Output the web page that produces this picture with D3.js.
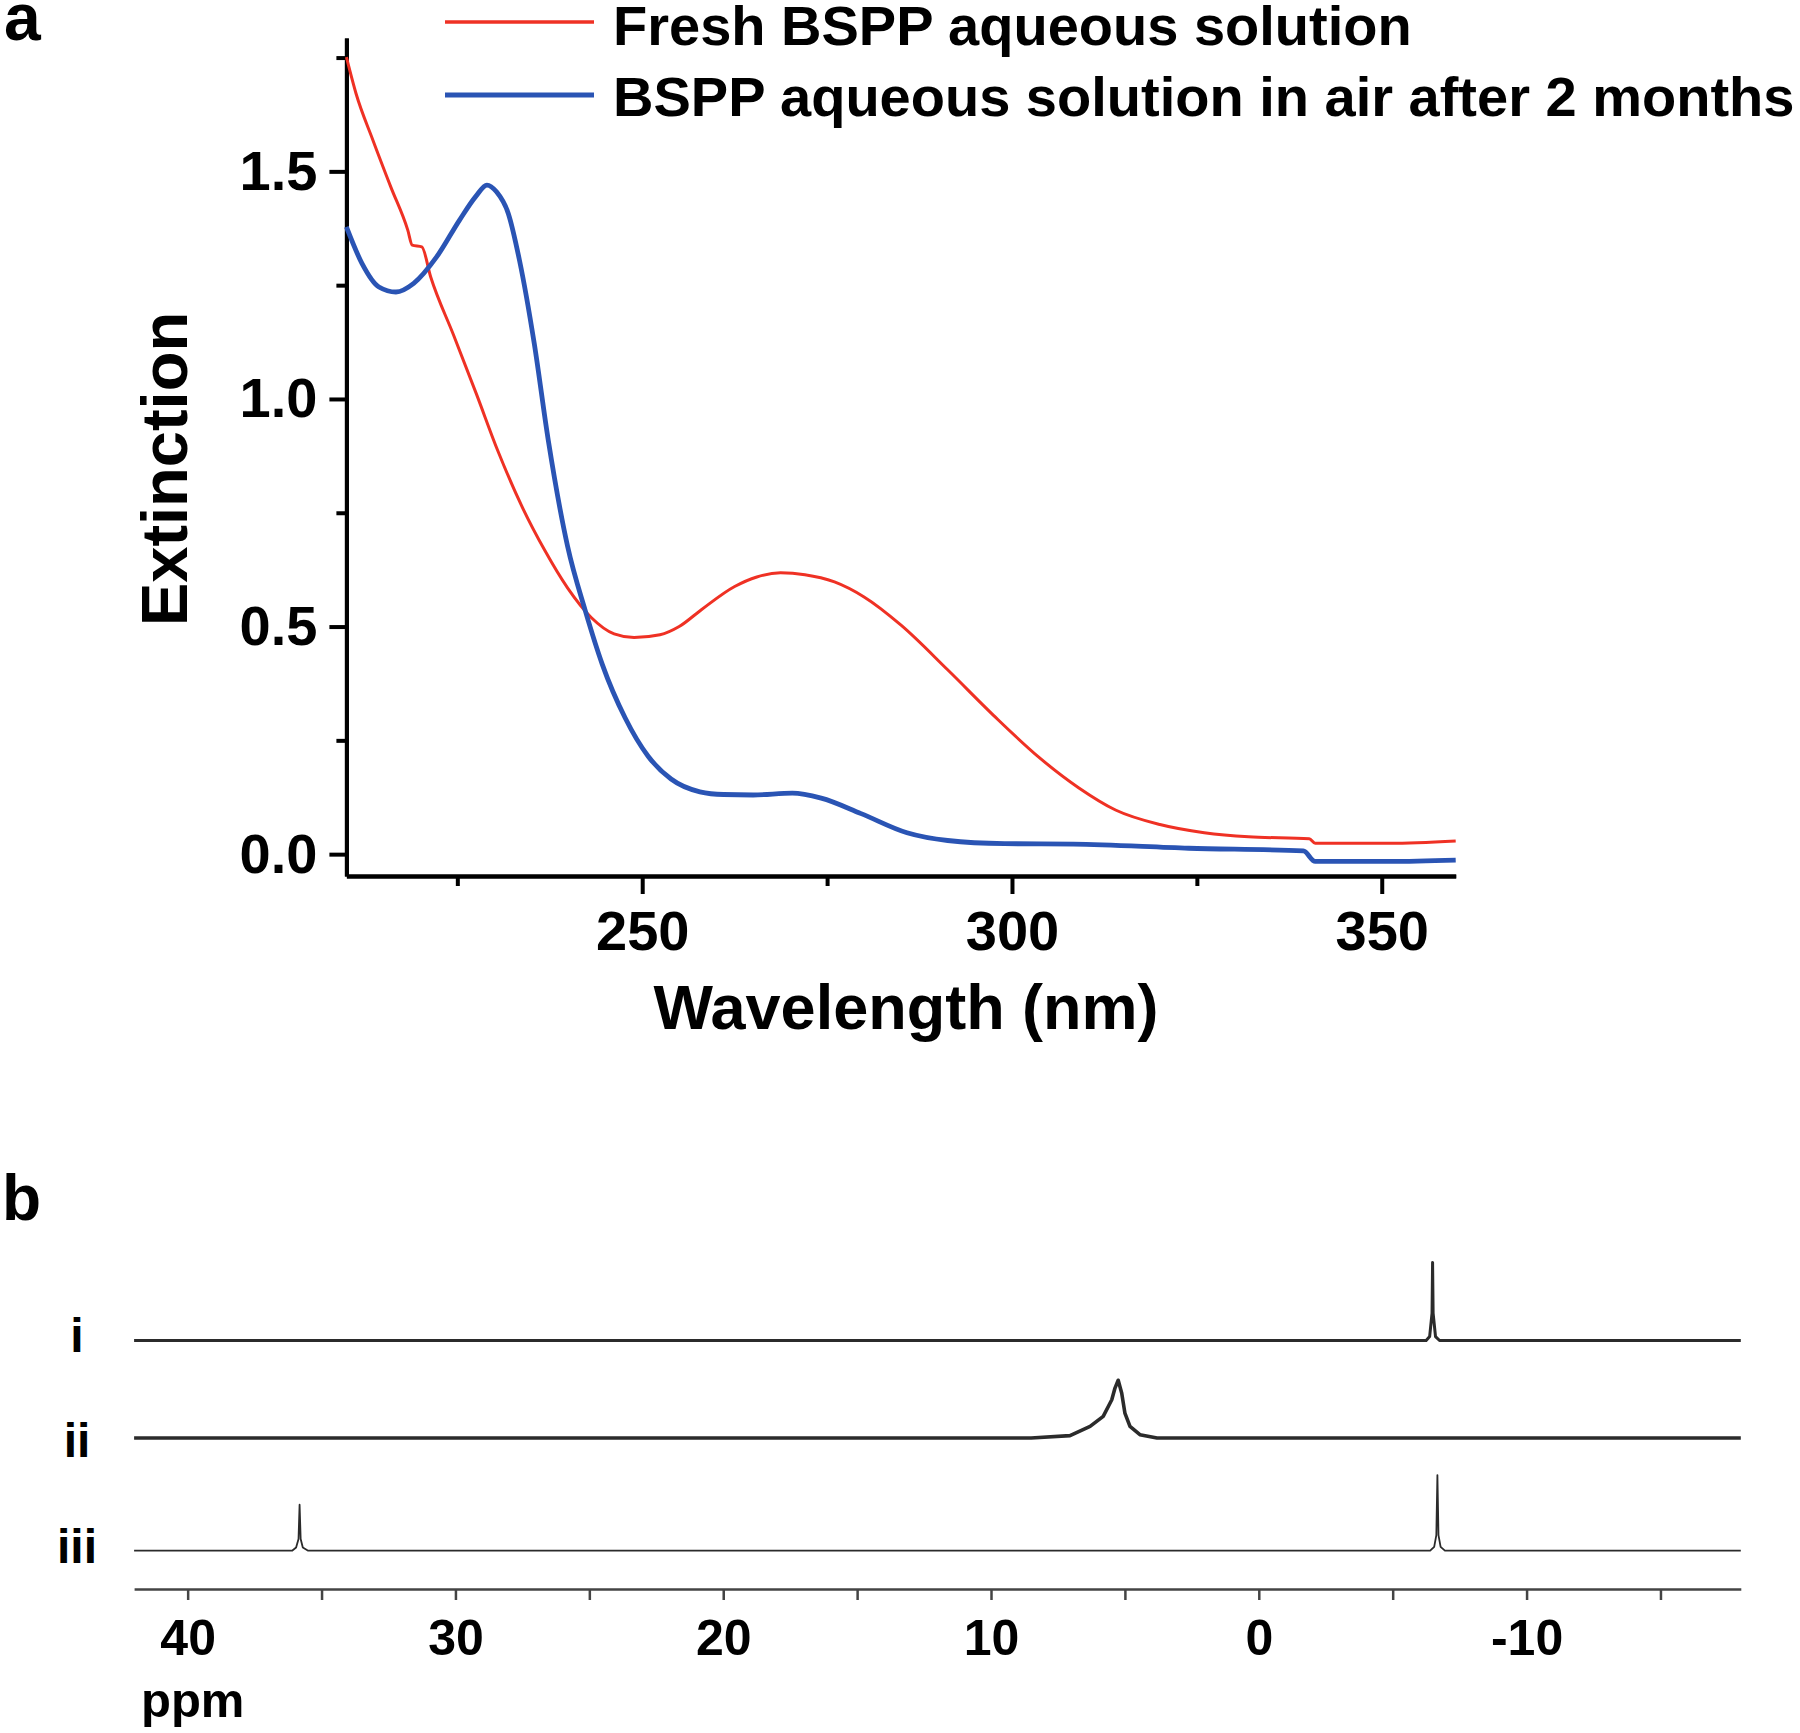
<!DOCTYPE html>
<html>
<head>
<meta charset="utf-8">
<script src="https://cdn.jsdelivr.net/npm/d3@7"></script>
<style>
  body { margin: 0; background: #fff; }
  svg { display: block; font-family: "Liberation Sans", Arial, Helvetica, sans-serif; font-weight: bold; }
  .axis-a path, .axis-a line { stroke: #000; stroke-width: 4; }
  .axis-a text { font-size: 56px; font-weight: bold; fill: #000; font-family: "Liberation Sans", Arial, sans-serif; }
  .axis-b path, .axis-b line { stroke: #444; stroke-width: 2.5; }
  .axis-b text { font-size: 50px; font-weight: bold; fill: #000; font-family: "Liberation Sans", Arial, sans-serif; }
</style>
</head>
<body>
<svg id="chart" width="1800" height="1733"></svg>
<script>
// panel a: UV-vis extinction
var freshWl  = [210, 211.3, 213.6, 216.0, 218.3, 218.9, 220.2, 221.4, 224.5, 227.6, 230.5, 233.7, 236.8, 239.9, 243.1, 246.2, 248.9, 252.4, 255.0, 258.0, 262.5, 265.5, 268.7, 272.0, 276.0, 280.0, 285.0, 291.3, 297.5, 303.7, 309.0, 314.0, 320.0, 326.0, 332.0, 340.2, 341.0, 351.1, 360];
var freshExt = [1.751, 1.671, 1.568, 1.466, 1.371, 1.338, 1.334, 1.268, 1.140, 1.010, 0.885, 0.765, 0.668, 0.585, 0.520, 0.484, 0.476, 0.482, 0.500, 0.537, 0.588, 0.609, 0.618, 0.614, 0.598, 0.565, 0.503, 0.405, 0.305, 0.212, 0.146, 0.097, 0.065, 0.047, 0.038, 0.034, 0.024, 0.024, 0.029];

var agedWl  = [210, 212.1, 214.4, 216.7, 219.1, 222.2, 225.3, 227.5, 229.0, 230.3, 231.9, 233.4, 235.4, 237.3, 239.9, 242.3, 244.6, 247.7, 250.8, 253.9, 257.8, 261.0, 265.0, 270.3, 274.2, 279.6, 285.8, 291.3, 299.0, 308.3, 323.9, 339.4, 341.0, 351.1, 360];
var agedExt = [1.378, 1.298, 1.246, 1.235, 1.254, 1.312, 1.393, 1.445, 1.470, 1.455, 1.407, 1.305, 1.122, 0.909, 0.677, 0.535, 0.417, 0.299, 0.215, 0.165, 0.137, 0.131, 0.130, 0.134, 0.123, 0.089, 0.047, 0.030, 0.023, 0.022, 0.013, 0.007, -0.016, -0.016, -0.013];

var seriesNames = ["Fresh BSPP aqueous solution", "BSPP aqueous solution in air after 2 months"];
var xTicksA = [250, 300, 350], xMinorA = [225, 275, 325];
var yTicksA = [0, 0.5, 1.0, 1.5], yMinorA = [0.25, 0.75, 1.25, 1.75];

// panel b: 31P NMR spectra (ppm, relative intensity)
var traceNames = ["i", "ii", "iii"];
var specIppm = [42, -6.25, -6.38, -6.44, -6.47, -6.49, -6.51, -6.54, -6.6, -6.75, -18];
var specIint = [0, 0, 0.05, 0.25, 0.35, 1.0, 0.35, 0.25, 0.05, 0, 0];
var specIIppm = [42, 8.5, 7.05, 6.3, 5.81, 5.49, 5.37, 5.25, 5.12, 5.0, 4.81, 4.44, 3.8, -18];
var specIIint = [0, 0, 0.03, 0.149, 0.277, 0.49, 0.64, 0.74, 0.577, 0.32, 0.149, 0.042, 0, 0];
var specIIIppm = [42, 36.1, 35.95, 35.86, 35.82, 35.78, 35.7, 35.5, -6.4, -6.55, -6.63, -6.67, -6.71, -6.79, -6.95, -18];
var specIIIint = [0, 0, 0.04, 0.15, 0.59, 0.15, 0.04, 0, 0, 0.05, 0.2, 0.97, 0.2, 0.05, 0, 0];
var xTicksB = [40, 35, 30, 25, 20, 15, 10, 5, 0, -5, -10, -15];

var svg = d3.select("#chart");

var x = d3.scaleLinear().domain([210, 360]).range([346.4, 1455.7]);
var y = d3.scaleLinear().domain([-0.048, 1.793]).range([876, 38]);

var line = d3.line()
  .x(d => x(d[0]))
  .y(d => y(d[1]))
  .curve(d3.curveMonotoneX);

var gA = svg.append("g");

gA.append("g")
  .attr("class", "axis-a")
  .attr("transform", "translate(0,876)")
  .call(d3.axisBottom(x).tickValues(xMinorA).tickSize(10).tickSizeOuter(0).tickFormat(""));

gA.append("g")
  .attr("class", "axis-a")
  .attr("transform", "translate(0,876)")
  .call(d3.axisBottom(x).tickValues(xTicksA).tickSize(18).tickSizeOuter(0).tickPadding(16).tickFormat(d3.format("d")));

gA.append("g")
  .attr("class", "axis-a")
  .attr("transform", "translate(346.4,0)")
  .call(d3.axisLeft(y).tickValues(yMinorA).tickSize(10).tickSizeOuter(0).tickFormat(""));

gA.append("g")
  .attr("class", "axis-a")
  .attr("transform", "translate(346.4,0)")
  .call(d3.axisLeft(y).tickValues(yTicksA).tickSize(17).tickSizeOuter(0).tickPadding(12).tickFormat(d3.format(".1f")));

gA.append("path")
  .datum(d3.zip(freshWl, freshExt))
  .attr("fill", "none")
  .attr("stroke", "#ef3124")
  .attr("stroke-width", 3)
  .attr("d", line);

gA.append("path")
  .datum(d3.zip(agedWl, agedExt))
  .attr("fill", "none")
  .attr("stroke", "#2a54b4")
  .attr("stroke-width", 4.8)
  .attr("d", line);

// legend
var legendColors = ["#ef3124", "#2a54b4"], legendWidths = [3.5, 5];
var legendY = [22, 95], legendBase = [45, 116];
seriesNames.forEach((name, i) => {
  gA.append("line")
    .attr("x1", 445).attr("x2", 594)
    .attr("y1", legendY[i]).attr("y2", legendY[i])
    .attr("stroke", legendColors[i])
    .attr("stroke-width", legendWidths[i]);
  gA.append("text")
    .attr("x", 613).attr("y", legendBase[i])
    .attr("font-size", 56)
    .text(name);
});

gA.append("text")
  .attr("transform", "translate(187,469) rotate(-90)")
  .attr("text-anchor", "middle")
  .attr("font-size", 65)
  .text("Extinction");

gA.append("text")
  .attr("x", 906).attr("y", 1029)
  .attr("text-anchor", "middle")
  .attr("font-size", 63)
  .text("Wavelength (nm)");

svg.append("text").attr("x", 4).attr("y", 40).attr("font-size", 66).text("a");
svg.append("text").attr("x", 2).attr("y", 1220).attr("font-size", 64).text("b");

// panel b
var xb = d3.scaleLinear().domain([42, -18]).range([134.1, 1740.8]);
var gB = svg.append("g");

gB.append("g")
  .attr("class", "axis-b")
  .attr("transform", "translate(0,1589)")
  .call(d3.axisBottom(xb).tickValues(xTicksB).tickSize(11).tickSizeOuter(0).tickPadding(19)
    .tickFormat(d => d % 10 === 0 ? String(d) : ""));

gB.append("text")
  .attr("x", 141).attr("y", 1717)
  .attr("font-size", 49)
  .text("ppm");

var baseY = [1340.5, 1438, 1550.7];
var traces = [d3.zip(specIppm, specIint), d3.zip(specIIppm, specIIint), d3.zip(specIIIppm, specIIIint)];
var traceWidths = [3, 3.6, 1.8];
var labelBase = [1352, 1457, 1563];

traces.forEach((t, i) => {
  var yb = d3.scaleLinear().domain([0, 1]).range([baseY[i], baseY[i] - 78]);
  gB.append("path")
    .datum(t)
    .attr("fill", "none")
    .attr("stroke", "#2b2b2b")
    .attr("stroke-width", traceWidths[i])
    .attr("stroke-linejoin", "round")
    .attr("d", d3.line().x(d => xb(d[0])).y(d => yb(d[1])));
  gB.append("text")
    .attr("x", 77).attr("y", labelBase[i])
    .attr("text-anchor", "middle")
    .attr("font-size", 48)
    .text(traceNames[i]);
});
</script>
</body>
</html>
